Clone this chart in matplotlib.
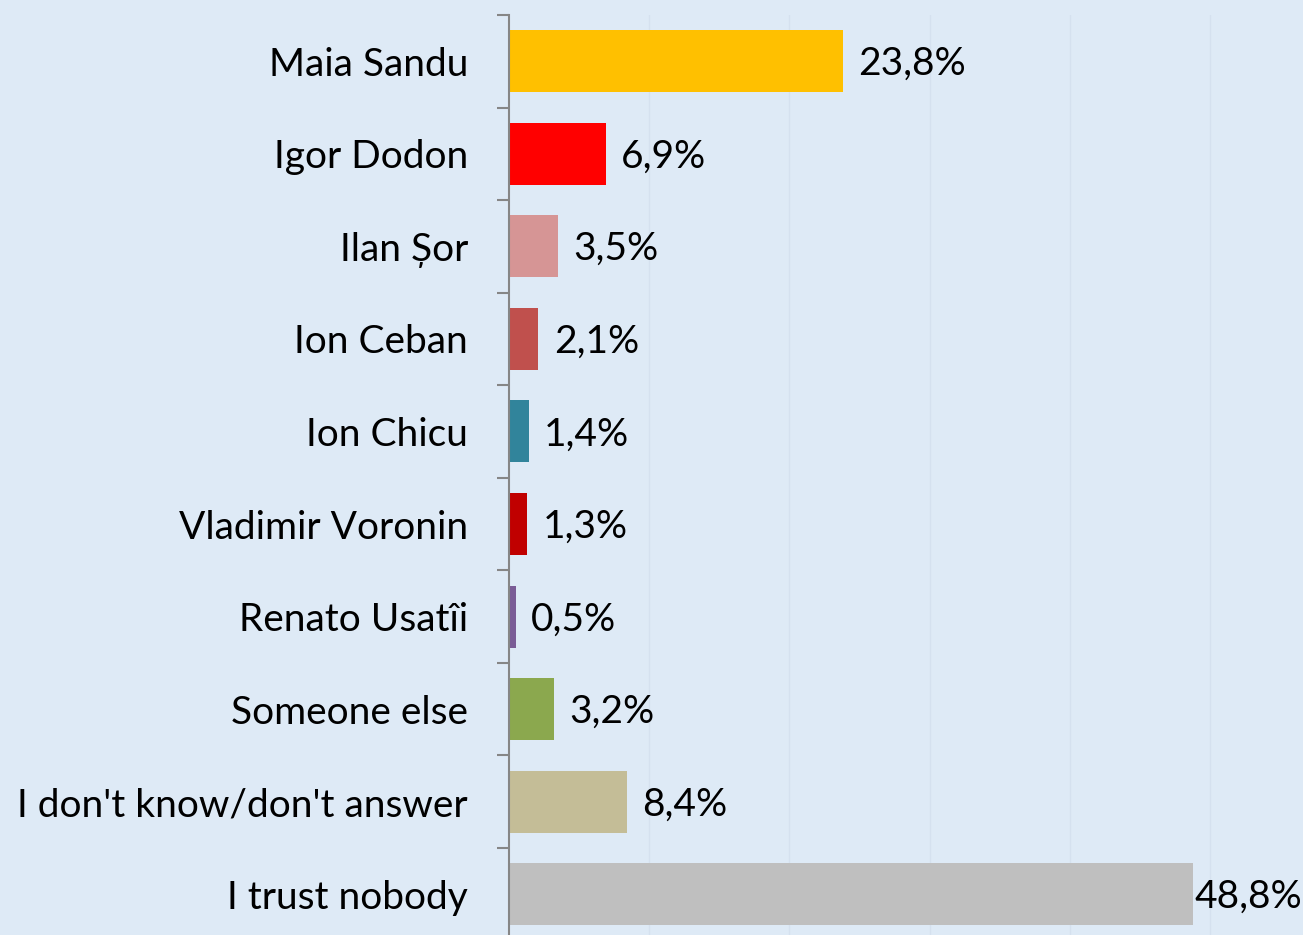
import matplotlib
matplotlib.use("Agg")
import matplotlib.pyplot as plt
import numpy as np

categories = ["Maia Sandu", "Igor Dodon", "Ilan Șor", "Ion Ceban", "Ion Chicu",
              "Vladimir Voronin", "Renato Usatîi", "Someone else",
              "I don't know/don't answer", "I trust nobody"]
values = [23.8, 6.9, 3.5, 2.1, 1.4, 1.3, 0.5, 3.2, 8.4, 48.8]
value_labels = ["23,8%", "6,9%", "3,5%", "2,1%", "1,4%", "1,3%", "0,5%", "3,2%", "8,4%", "48,8%"]
colors = ["#FFC000", "#FF0000", "#D69595", "#C0504D", "#31849B",
          "#C00000", "#7A5C96", "#8BA84E", "#C4BD97", "#BFBFBF"]

BG = "#DEEAF6"
W, H = 1303, 935
fig = plt.figure(figsize=(W / 100, H / 100), dpi=100, facecolor=BG)
ax = fig.add_axes([509 / W, -5.5 / H, 794 / W, 925.5 / H])
ax.set_facecolor(BG)

y = np.arange(len(categories))
ax.barh(y, values, height=0.67, color=colors, zorder=3)

ax.set_xlim(0, 794 / 14.02)
ax.set_ylim(len(categories) - 0.5, -0.5)

ax.set_xticks([10, 20, 30, 40, 50])
ax.xaxis.grid(True, color="#D5E1EF", linewidth=1.0, zorder=0)
ax.tick_params(axis="x", length=0, labelbottom=False)

ax.set_yticks(y)
ax.set_yticklabels(categories, fontfamily="Lato", fontsize=28, color="#000000")
ax.set_yticks(np.arange(-0.5, len(categories) + 0.5, 1), minor=True)
ax.tick_params(axis="y", which="major", length=0, pad=29.5)
ax.tick_params(axis="y", which="minor", length=8.6, width=1.5, color="#868686", direction="out")

for s in ["top", "right", "bottom"]:
    ax.spines[s].set_visible(False)
ax.spines["left"].set_color("#868686")
ax.spines["left"].set_linewidth(1.5)
ax.spines["left"].set_zorder(4)

for yi, v, lab in zip(y, values, value_labels):
    off = 1 if v > 45 else 11
    ax.annotate(lab, xy=(v, yi), xytext=(off, -2), textcoords="offset points",
                ha="left", va="center", fontfamily="Lato", fontsize=28, color="#000000")

fig.savefig("out.png", dpi=100, facecolor=BG)
